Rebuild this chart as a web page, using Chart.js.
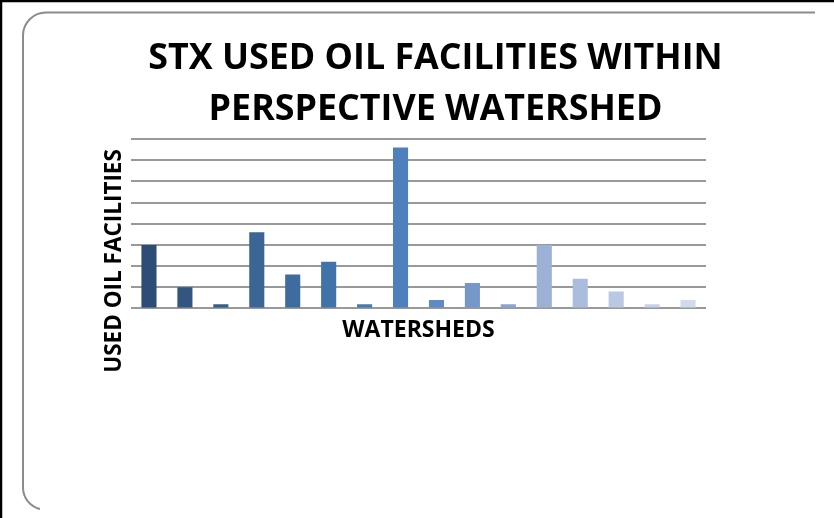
<!DOCTYPE html>
<html>
<head>
<meta charset="utf-8">
<script src="https://cdn.jsdelivr.net/npm/chart.js@4.4.0/dist/chart.umd.min.js"></script>
<style>
  html, body { margin: 0; padding: 0; background: #fff; }
  #sivu { position: relative; width: 834px; height: 518px; overflow: hidden; }
  #kehys, #kaavio { position: absolute; left: 0; top: 0; }
</style>
</head>
<body>
<div id="sivu">
  <svg id="kehys" width="834" height="518">
    <line x1="1" y1="0" x2="1" y2="518" stroke="#000" stroke-width="2.5"/>
    <line x1="0" y1="1" x2="834" y2="1" stroke="#000" stroke-width="2.5"/>
    <path d="M 815 12.5 L 46 12.5 A 23 23 0 0 0 23 35.5 L 23 488 A 22 22 0 0 0 40 509" fill="none" stroke="#8c8c8c" stroke-width="2"/>
  </svg>
  <canvas id="kaavio" width="834" height="518"></canvas>
</div>
<script>
// Valuma-alueet (nimet eivät näy kuvassa)
const valumaAlueet = ['WS 1', 'WS 2', 'WS 3', 'WS 4', 'WS 5', 'WS 6', 'WS 7', 'WS 8',
                      'WS 9', 'WS 10', 'WS 11', 'WS 12', 'WS 13', 'WS 14', 'WS 15', 'WS 16'];
// Käytetyn öljyn laitosten määrä per alue
const laitokset = [15, 5, 1, 18, 8, 11, 1, 38, 2, 6, 1, 15, 7, 4, 1, 2];
// Y-akselin asteikko
const yMin = 0;
const yMax = 40;
const yAskel = 5;

const otsikko = ['STX USED OIL FACILITIES WITHIN', 'PERSPECTIVE WATERSHED'];
const yOtsikko = 'USED OIL FACILITIES';
const xOtsikko = 'WATERSHEDS';

// Pylväiden värit tummasta vaaleaan
const varit = ['#2c4d75', '#31567f', '#355d89', '#3a6594', '#3e6c9e', '#4273a8', '#4779b2', '#4f7fbc',
               '#5f8ac3', '#7698c9', '#88a6d0', '#9bb1d6', '#aabddd', '#b9c8e3', '#c6d2e8', '#d1dbec'];

// Otsikko ja y-akselin nimi piirretään itse
const tekstit = {
  id: 'tekstit',
  afterDraw(chart) {
    const c = chart.ctx;
    const a = chart.chartArea;
    c.save();
    c.fillStyle = '#000';
    c.textAlign = 'center';
    c.textBaseline = 'middle';
    c.font = 'bold 35.8px "Open Sans"';
    const keski = (a.left + a.right) / 2 + 17;
    c.fillText(otsikko[0], keski, a.top - 80);
    c.fillText(otsikko[1], keski, a.top - 29.5);
    c.translate(a.left - 16, a.top + 122);
    c.rotate(-Math.PI / 2);
    c.font = 'bold 22.5px "Open Sans"';
    c.fillText(yOtsikko, 0, 0);
    c.restore();
  }
};

new Chart(document.querySelector('#kaavio').getContext('2d'), {
  type: 'bar',
  data: {
    labels: valumaAlueet,
    datasets: [{
      data: laitokset,
      backgroundColor: varit,
      borderWidth: 0,
      categoryPercentage: 1,
      barPercentage: 0.42
    }]
  },
  options: {
    responsive: false,
    animation: false,
    layout: { padding: { left: 131, right: 128, top: 139, bottom: 174 } },
    plugins: {
      legend: { display: false },
      title: { display: false },
      tooltip: { enabled: false }
    },
    scales: {
      x: {
        grid: { display: false, drawTicks: false },
        border: { display: false },
        ticks: { display: false },
        title: {
          display: true,
          text: xOtsikko,
          color: '#000',
          font: { family: '"Open Sans"', size: 23, weight: 'bold' },
          padding: { top: 8, bottom: 0 }
        }
      },
      y: {
        min: yMin,
        max: yMax,
        ticks: { display: false, stepSize: yAskel },
        grid: { color: '#999', lineWidth: 2, drawTicks: false },
        border: { display: false }
      }
    }
  },
  plugins: [tekstit]
});
</script>
</body>
</html>
